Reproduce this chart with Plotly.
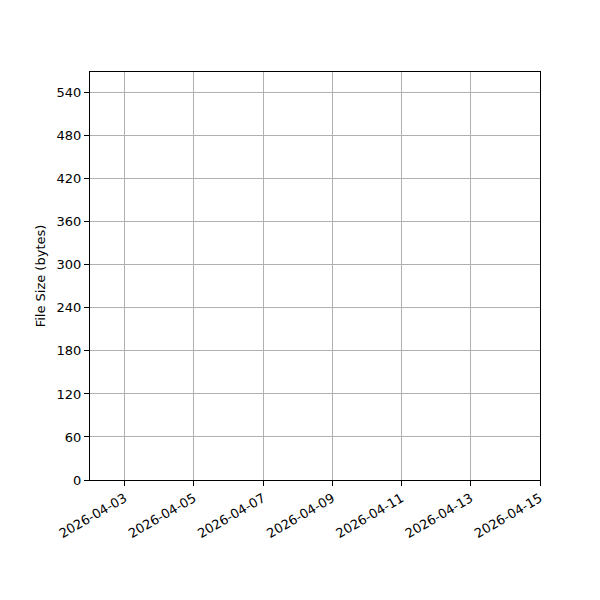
import plotly.graph_objects as go

# the reference plot has no data points, only the empty axes
dates = []
file_sizes = []

x_range = ["2026-04-02", "2026-04-15"]
y_range = [0, 569]
x_first_tick = "2026-04-03"
y_step = 60

fig = go.Figure()
fig.add_scatter(x=dates, y=file_sizes, mode="lines", line=dict(color="#1f77b4"), showlegend=False)

axis_style = dict(
    showline=True, linecolor="black", linewidth=1, mirror=True,
    ticks="outside", ticklen=5, tickcolor="black", tickwidth=1,
    showgrid=True, gridcolor="#b0b0b0", gridwidth=0.8, zeroline=False,
    tickfont=dict(size=13, color="black"),
)
fig.update_xaxes(type="date", range=x_range, tick0=x_first_tick, dtick=2 * 86400000,
                 tickformat="%Y-%m-%d", tickangle=-30, **axis_style)
fig.update_yaxes(range=y_range, tick0=0, dtick=y_step,
                 title=dict(text="File Size (bytes)", font=dict(size=13, color="black"), standoff=8),
                 **axis_style)
# page body adds ~8px offset, margins compensate for it
fig.update_layout(
    width=600, height=600,
    margin=dict(l=82, r=68, t=64, b=128),
    plot_bgcolor="white", paper_bgcolor="white",
    font=dict(family="DejaVu Sans", size=13, color="black"),
)
fig.write_html("out.html")
